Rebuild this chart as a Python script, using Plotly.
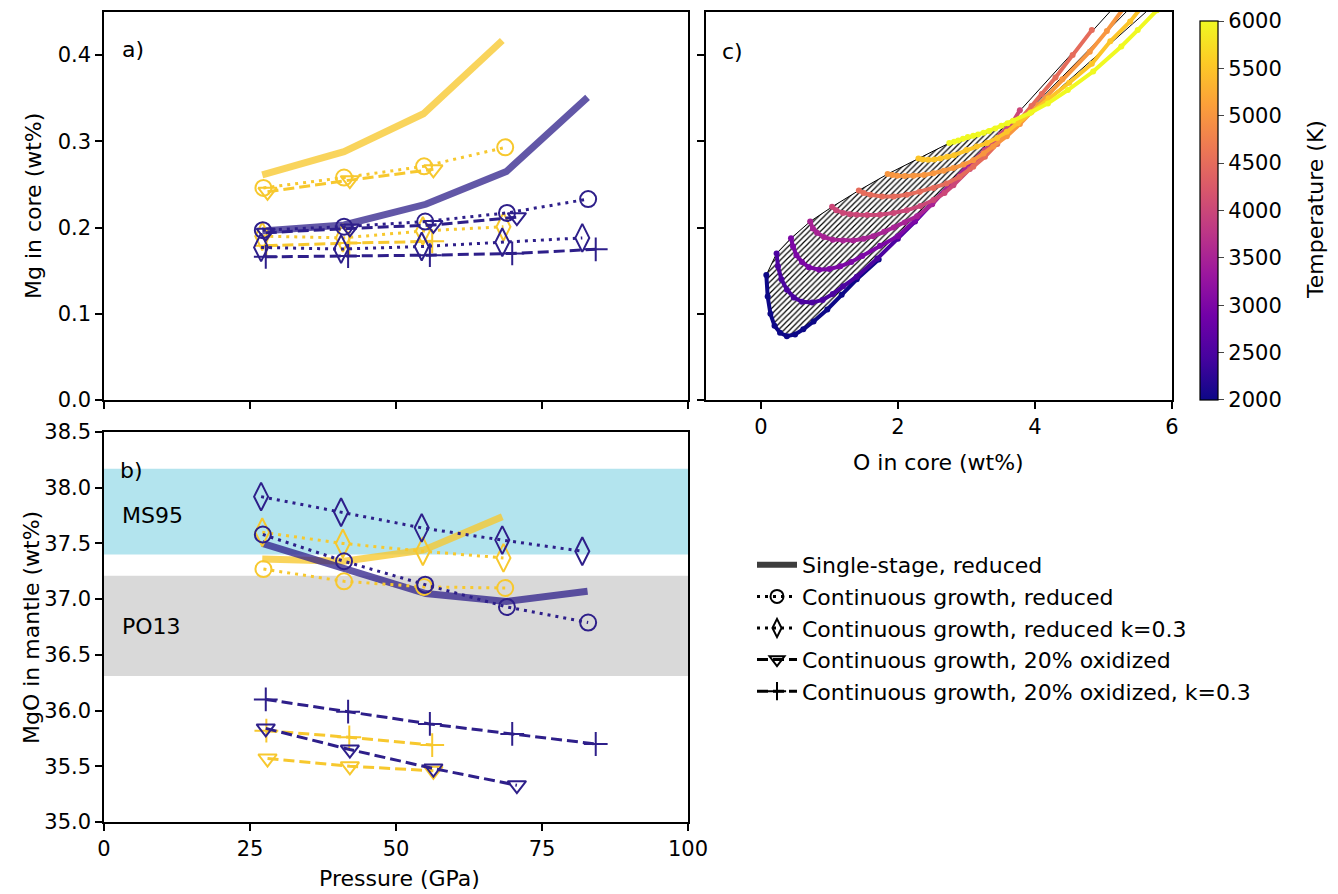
import plotly.graph_objects as go
from plotly.colors import sample_colorscale

W, H = 1338, 894
OX, OY = 8, 8          # page body margin of the written html
FW, FH = W - OX, H - OY

# ---------------- Panel a / b data (pressure in GPa) ----------------
P_SS_DARK = [27.1, 41.1, 55.1, 68.9, 82.8]
P_SS_YEL = [27.1, 41.1, 54.7, 68.2]
P_CIR_DARK = [27.2, 41.1, 55.0, 69.0, 82.9]
P_CIR_YEL = [27.3, 41.1, 54.8, 68.7]
P_DIA_DARK = [26.9, 40.6, 54.4, 68.2, 81.9]
P_DIA_YEL = [27.1, 40.9, 54.6, 68.4]
P_TRI_DARK = [27.7, 42.1, 56.4, 70.7]
P_TRI_YEL = [28.0, 42.1, 56.4]
P_PLUS_DARK = [27.7, 41.8, 55.8, 69.9, 84.2]
P_PLUS_YEL = [27.8, 42.0, 56.2]

# Mg in core (wt%)
MG_SS_DARK = [0.196, 0.203, 0.227, 0.265, 0.351]
MG_SS_YEL = [0.261, 0.288, 0.332, 0.417]
MG_CIR_DARK = [0.197, 0.201, 0.207, 0.217, 0.233]
MG_CIR_YEL = [0.246, 0.258, 0.271, 0.293]
MG_DIA_DARK = [0.177, 0.175, 0.178, 0.183, 0.188]
MG_DIA_YEL = [0.190, 0.188, 0.196, 0.201]
MG_TRI_DARK = [0.194, 0.199, 0.203, 0.212]
MG_TRI_YEL = [0.2415, 0.255, 0.2675]
MG_PLUS_DARK = [0.166, 0.167, 0.168, 0.170, 0.1747]
MG_PLUS_YEL = [0.179, 0.182, 0.184]

# MgO in mantle (wt%)
MGO_SS_DARK = [37.50, 37.28, 37.05, 36.98, 37.07]
MGO_SS_YEL = [37.36, 37.34, 37.44, 37.74]
MGO_CIR_DARK = [37.58, 37.34, 37.13, 36.93, 36.79]
MGO_CIR_YEL = [37.27, 37.16, 37.11, 37.10]
MGO_DIA_DARK = [37.92, 37.78, 37.64, 37.53, 37.43]
MGO_DIA_YEL = [37.60, 37.50, 37.43, 37.37]
MGO_TRI_DARK = [35.84, 35.65, 35.48, 35.33]
MGO_TRI_YEL = [35.57, 35.50, 35.46]
MGO_PLUS_DARK = [36.10, 35.99, 35.88, 35.79, 35.70]
MGO_PLUS_YEL = [35.82, 35.76, 35.69]

MS95_RANGE = [37.40, 38.17]
PO13_RANGE = [36.31, 37.21]

# ---------------- Panel c data: O in core (wt%) vs Mg in core (wt%) ----------------
TEMPS = [2000, 2500, 3000, 3500, 4000, 4500, 5000, 5500, 6000]

O_T2000 = [0.08, 0.10, 0.14, 0.20, 0.28, 0.38, 0.50, 0.62, 0.77, 0.97, 1.18, 1.40, 1.72]
MG_T2000 = [0.145, 0.120, 0.100, 0.086, 0.078, 0.074, 0.076, 0.082, 0.091, 0.105, 0.122, 0.140, 0.163]
O_T2500 = [0.23, 0.25, 0.30, 0.38, 0.48, 0.60, 0.75, 0.90, 1.05, 1.20, 1.40, 1.70, 2.00, 2.25, 2.50]
MG_T2500 = [0.170, 0.155, 0.140, 0.128, 0.119, 0.114, 0.113, 0.116, 0.123, 0.132, 0.143, 0.164, 0.187, 0.207, 0.228]
O_T3000 = [0.44, 0.47, 0.52, 0.60, 0.70, 0.85, 1.00, 1.16, 1.32, 1.48, 1.74, 2.00, 2.25, 2.50, 2.76, 3.00]
MG_T3000 = [0.1875, 0.178, 0.168, 0.160, 0.154, 0.151, 0.152, 0.155, 0.160, 0.167, 0.179, 0.190, 0.208, 0.228, 0.250, 0.269]
O_T3500 = [0.72, 0.76, 0.82, 0.92, 1.05, 1.20, 1.35, 1.50, 1.64, 1.80, 1.94, 2.10, 2.28, 2.50, 2.76, 3.00, 3.27, 3.50]
MG_T3500 = [0.207, 0.199, 0.194, 0.189, 0.186, 0.185, 0.185, 0.187, 0.190, 0.195, 0.200, 0.206, 0.213, 0.227, 0.250, 0.270, 0.290, 0.306]
O_T4000 = [1.04, 1.10, 1.20, 1.30, 1.40, 1.55, 1.74, 1.94, 2.13, 2.33, 2.52, 2.68, 2.81, 3.05, 3.27, 3.50, 3.68, 3.78]
MG_T4000 = [0.224, 0.220, 0.217, 0.2155, 0.2148, 0.2145, 0.2148, 0.217, 0.220, 0.225, 0.232, 0.240, 0.249, 0.268, 0.289, 0.308, 0.323, 0.336]
O_T4500 = [1.43, 1.50, 1.60, 1.77, 1.94, 2.13, 2.32, 2.52, 2.71, 2.90, 3.10, 3.27, 3.45, 3.62, 3.78, 3.95, 4.10, 4.30, 4.55, 4.83]
MG_T4500 = [0.243, 0.240, 0.238, 0.236, 0.236, 0.238, 0.2416, 0.246, 0.251, 0.259, 0.2706, 0.282, 0.297, 0.311, 0.325, 0.341, 0.355, 0.374, 0.400, 0.429]
O_T5000 = [1.85, 1.92, 1.99, 2.10, 2.23, 2.38, 2.52, 2.67, 2.81, 2.96, 3.10, 3.25, 3.39, 3.59, 3.78, 4.05, 4.40, 4.80, 5.05, 5.30]
MG_T5000 = [0.262, 0.261, 0.260, 0.2598, 0.260, 0.261, 0.263, 0.266, 0.269, 0.273, 0.278, 0.286, 0.294, 0.306, 0.320, 0.342, 0.372, 0.404, 0.428, 0.455]
O_T5500 = [2.30, 2.36, 2.44, 2.53, 2.62, 2.72, 2.82, 3.00, 3.15, 3.30, 3.45, 3.59, 3.75, 3.95, 4.20, 4.50, 4.83, 5.10, 5.39, 5.55]
MG_T5500 = [0.280, 0.279, 0.2785, 0.279, 0.280, 0.282, 0.284, 0.290, 0.294, 0.298, 0.304, 0.311, 0.321, 0.334, 0.350, 0.368, 0.390, 0.416, 0.439, 0.455]
O_T6000 = [2.75, 2.82, 2.88, 2.95, 3.02, 3.10, 3.17, 3.25, 3.33, 3.42, 3.51, 3.60, 3.68, 3.93, 4.19, 4.48, 4.85, 5.26, 5.50, 5.78]
MG_T6000 = [0.298, 0.2995, 0.301, 0.303, 0.305, 0.3065, 0.308, 0.310, 0.312, 0.315, 0.318, 0.321, 0.324, 0.333, 0.344, 0.3595, 0.381, 0.410, 0.429, 0.452]

O_CURVES = [O_T2000, O_T2500, O_T3000, O_T3500, O_T4000, O_T4500, O_T5000, O_T5500, O_T6000]
MG_CURVES = [MG_T2000, MG_T2500, MG_T3000, MG_T3500, MG_T4000, MG_T4500, MG_T5000, MG_T5500, MG_T6000]

# lower envelope of the hatched band
ENV_O = [0.77, 0.97, 1.40, 1.72, 2.25, 2.74, 3.27, 3.59, 3.72]
ENV_MG = [0.091, 0.105, 0.140, 0.163, 0.207, 0.249, 0.290, 0.313, 0.324]

# thin black lines of the fan above the crossing point
FAN_A_O = [3.81, 5.09]
FAN_A_MG = [0.338, 0.450]
FAN_B_O = [3.88, 5.33]
FAN_B_MG = [0.333, 0.450]
FAN_C_O = [3.96, 5.62]
FAN_C_MG = [0.333, 0.450]

# ---------------- styles ----------------
DARK = "#2e1f8a"
YEL = "#f7c82e"
DARK_THICK = "rgba(46,31,138,0.75)"
YEL_THICK = "rgba(247,200,46,0.78)"
DOT = "3px,5px"
DASH = "11px,5px"
FONT = "DejaVu Sans"
FS = 22
FS_TICK = 21

fig = go.Figure()


def px_x(p):
    return (p - OX) / FW


def px_y(p):
    return 1 - (p - OY) / FH


# bands in panel b
fig.add_shape(type="rect", xref="x2 domain", yref="y2", x0=0, x1=1,
              y0=MS95_RANGE[0], y1=MS95_RANGE[1], fillcolor="#b3e4ee",
              line=dict(width=0), layer="below")
fig.add_shape(type="rect", xref="x2 domain", yref="y2", x0=0, x1=1,
              y0=PO13_RANGE[0], y1=PO13_RANGE[1], fillcolor="#d9d9d9",
              line=dict(width=0), layer="below")


def series(xa, ya, x, y, color, dash, symbol, size, lw=3):
    fig.add_trace(go.Scatter(
        x=x, y=y, xaxis=xa, yaxis=ya, mode="lines+markers",
        line=dict(color=color, width=lw, dash=dash),
        marker=dict(symbol=symbol, size=size, color=color,
                    line=dict(color=color, width=2)),
        showlegend=False, hoverinfo="skip"))


def thick(xa, ya, x, y, color):
    fig.add_trace(go.Scatter(
        x=x, y=y, xaxis=xa, yaxis=ya, mode="lines",
        line=dict(color=color, width=7), showlegend=False, hoverinfo="skip"))


for xa, ya, vals in [
    ("x", "y", dict(ss_d=MG_SS_DARK, ss_y=MG_SS_YEL, c_d=MG_CIR_DARK, c_y=MG_CIR_YEL,
                    d_d=MG_DIA_DARK, d_y=MG_DIA_YEL, t_d=MG_TRI_DARK, t_y=MG_TRI_YEL,
                    p_d=MG_PLUS_DARK, p_y=MG_PLUS_YEL)),
    ("x2", "y2", dict(ss_d=MGO_SS_DARK, ss_y=MGO_SS_YEL, c_d=MGO_CIR_DARK, c_y=MGO_CIR_YEL,
                      d_d=MGO_DIA_DARK, d_y=MGO_DIA_YEL, t_d=MGO_TRI_DARK, t_y=MGO_TRI_YEL,
                      p_d=MGO_PLUS_DARK, p_y=MGO_PLUS_YEL)),
]:
    thick(xa, ya, P_SS_YEL, vals["ss_y"], YEL_THICK)
    thick(xa, ya, P_SS_DARK, vals["ss_d"], DARK_THICK)
    series(xa, ya, P_CIR_YEL, vals["c_y"], YEL, DOT, "circle-open", 16)
    series(xa, ya, P_DIA_YEL, vals["d_y"], YEL, DOT, "diamond-tall-open", 20)
    series(xa, ya, P_TRI_YEL, vals["t_y"], YEL, DASH, "triangle-down-open", 16)
    series(xa, ya, P_PLUS_YEL, vals["p_y"], YEL, DASH, "cross-thin-open", 17)
    series(xa, ya, P_CIR_DARK, vals["c_d"], DARK, DOT, "circle-open", 16)
    series(xa, ya, P_DIA_DARK, vals["d_d"], DARK, DOT, "diamond-tall-open", 20)
    series(xa, ya, P_TRI_DARK, vals["t_d"], DARK, DASH, "triangle-down-open", 16)
    series(xa, ya, P_PLUS_DARK, vals["p_d"], DARK, DASH, "cross-thin-open", 17)

# ---------------- panel c ----------------
starts_o = [c[0] for c in O_CURVES]
starts_mg = [c[0] for c in MG_CURVES]
n6 = 13
poly_o = starts_o + O_T6000[1:n6] + ENV_O[::-1] + O_T2000[:8][::-1]
poly_mg = starts_mg + MG_T6000[1:n6] + ENV_MG[::-1] + MG_T2000[:8][::-1]
fig.add_trace(go.Scatter(
    x=poly_o, y=poly_mg, xaxis="x3", yaxis="y3", mode="lines", fill="toself",
    fillcolor="rgba(0,0,0,0)",
    fillpattern=dict(shape="/", fgcolor="black", bgcolor="white", size=4, solidity=0.3,
                     fillmode="replace"),
    line=dict(color="black", width=1), showlegend=False, hoverinfo="skip"))

for fo, fm in [(FAN_A_O, FAN_A_MG), (FAN_B_O, FAN_B_MG), (FAN_C_O, FAN_C_MG)]:
    fig.add_trace(go.Scatter(x=fo, y=fm, xaxis="x3", yaxis="y3", mode="lines",
                             line=dict(color="black", width=1), showlegend=False,
                             hoverinfo="skip"))

tcolors = sample_colorscale("Plasma", [(t - 2000) / 4000 for t in TEMPS])
for t, oc, mc, col in zip(TEMPS, O_CURVES, MG_CURVES, tcolors):
    fig.add_trace(go.Scatter(
        x=oc, y=mc, xaxis="x3", yaxis="y3", mode="lines+markers",
        line=dict(color=col, width=4), marker=dict(size=6, color=col),
        showlegend=False, hoverinfo="skip"))

# colourbar
CB_TOP, CB_BOT = 21, 400
fig.add_trace(go.Scatter(
    x=[None], y=[None], xaxis="x3", yaxis="y3", mode="markers",
    marker=dict(color=[TEMPS[0], TEMPS[-1]], cmin=TEMPS[0] - 0.5, cmax=TEMPS[-1] + 0.5,
                colorscale="Plasma", showscale=True,
                colorbar=dict(x=px_x(1200), xanchor="left", y=px_y(CB_TOP), yanchor="top",
                              xpad=0, ypad=0,
                              len=(CB_BOT - CB_TOP) / FH, lenmode="fraction", thickness=18,
                              outlinewidth=1.2, outlinecolor="black",
                              ticks="outside", ticklen=6, tickwidth=1.2,
                              tickvals=TEMPS, ticklabeloverflow="allow",
                              tickfont=dict(size=FS_TICK, family=FONT, color="black"))),
    showlegend=False, hoverinfo="skip"))

# legend proxies
LEG = [
    ("Single-stage, reduced", "solid", None, "rgba(40,40,40,0.9)", 6),
    ("Continuous growth, reduced", DOT, "circle-open", "black", 3),
    ("Continuous growth, reduced k=0.3", DOT, "diamond-tall-open", "black", 3),
    ("Continuous growth, 20% oxidized", DASH, "triangle-down-open", "black", 3),
    ("Continuous growth, 20% oxidized, k=0.3", DASH, "cross-thin-open", "black", 3),
]
for name, dash, sym, col, lw in LEG:
    if sym is None:
        fig.add_trace(go.Scatter(x=[None], y=[None], xaxis="x3", yaxis="y3", mode="lines",
                                 name=name, line=dict(color=col, width=lw)))
    else:
        fig.add_trace(go.Scatter(x=[None], y=[None], xaxis="x3", yaxis="y3",
                                 mode="lines+markers", name=name,
                                 line=dict(color=col, width=lw, dash=dash),
                                 marker=dict(symbol=sym, size=13, color=col,
                                             line=dict(color=col, width=2))))

axis_common = dict(showline=True, linecolor="black", linewidth=1.5, mirror=True,
                   ticks="outside", ticklen=7, tickwidth=1.5, tickcolor="black",
                   showgrid=False, zeroline=False,
                   tickfont=dict(size=FS_TICK, family=FONT, color="black"))

XA = [px_x(104), px_x(688)]
XC = [px_x(706), px_x(1172)]
YA = [px_y(400), px_y(12)]
YB = [px_y(822), px_y(432)]

fig.update_layout(
    width=FW, height=FH, margin=dict(l=0, r=0, t=0, b=0, autoexpand=False),
    paper_bgcolor="white", plot_bgcolor="white",
    font=dict(family=FONT, size=FS, color="black"),
    xaxis=dict(domain=XA, range=[0, 100], tickvals=[0, 25, 50, 75, 100],
               showticklabels=False, anchor="y", **axis_common),
    yaxis=dict(domain=YA, range=[0, 0.45], tickvals=[0, 0.1, 0.2, 0.3, 0.4],
               tickformat=".1f", anchor="x", **axis_common),
    xaxis2=dict(domain=XA, range=[0, 100], tickvals=[0, 25, 50, 75, 100],
                anchor="y2", **axis_common),
    yaxis2=dict(domain=YB, range=[35, 38.5], dtick=0.5, tick0=35, tickformat=".1f",
                anchor="x2", **axis_common),
    xaxis3=dict(domain=XC, range=[-0.8, 6], tickvals=[0, 2, 4, 6], anchor="y3",
                **axis_common),
    yaxis3=dict(domain=YA, range=[0, 0.45], tickvals=[0, 0.1, 0.2, 0.3, 0.4],
                showticklabels=False, anchor="x3", **axis_common),
    legend=dict(x=px_x(752), y=px_y(544), xanchor="left", yanchor="top",
                bgcolor="rgba(0,0,0,0)", font=dict(size=FS, family=FONT, color="black"),
                itemwidth=40, tracegroupgap=0),
    showlegend=True,
)

ann = [
    ("a)", 120, 50, 0, "left"),
    ("b)", 118, 470, 0, "left"),
    ("c)", 720, 51, 0, "left"),
    ("MS95", 120, 515, 0, "left"),
    ("PO13", 120, 626, 0, "left"),
    ("Mg in core (wt%)", 33, 206, -90, "center"),
    ("MgO in mantle (wt%)", 31, 628, -90, "center"),
    ("Pressure (GPa)", 400, 878, 0, "center"),
    ("O in core (wt%)", 938, 462, 0, "center"),
    ("Temperature (K)", 1316, 210, -90, "center"),
]
for txt, x, y, ang, anc in ann:
    fig.add_annotation(text=txt, x=px_x(x), y=px_y(y), xref="paper", yref="paper",
                       xanchor=anc, yanchor="middle", showarrow=False, textangle=ang,
                       font=dict(size=FS, family=FONT, color="black"))

fig.write_html("out.html")
